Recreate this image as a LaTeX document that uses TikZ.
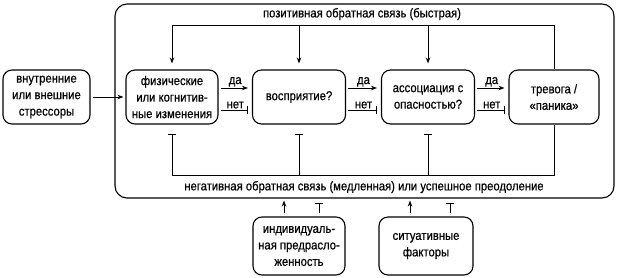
\documentclass[tikz,border=0pt]{standalone}
\usepackage{fontspec}
\setmainfont{Liberation Sans}[FakeStretch=0.88,FakeBold=0.6]
\usepackage{tikz}
\usetikzlibrary{arrows.meta}

\begin{document}
\begin{tikzpicture}[x=1pt,y=-1pt,
    font=\fontsize{12.8}{16.5}\selectfont,
    box/.style={draw, line width=1.1pt, rounded corners=9pt, align=center,
                minimum width=92pt, minimum height=54pt, inner sep=1pt},
    link/.style={line width=0.9pt, -{Stealth[length=6pt,width=4.5pt]}},
    tee/.style={line width=0.9pt, -{Bar[width=8pt]}},
    lbl/.style={inner sep=1pt, above}]
    \useasboundingbox (0,0) rectangle (618,277);

    % outer frame
    \node[draw, line width=1.1pt, rounded corners=12pt, minimum width=499pt,
          minimum height=194pt] (outer) at (364.5,101) {};

    \node[box, minimum width=87pt] (stress) at (46.5,97) {внутренние\\или внешние\\стрессоры};
    \node[box] (change) at (172,97) {физические\\или когнитив-\\ные изменения};
    \node[box, minimum width=93pt] (percept) at (299,97) {восприятие?};
    \node[box, minimum width=93pt] (assoc) at (428,97) {ассоциация с\\опасностью?};
    \node[box, minimum width=90pt] (panic) at (554,97) {тревога /\\«паника»};
    \node[box, minimum height=58pt] (indiv) at (299,246) {индивидуаль-\\ная предрасло-\\женность};
    \node[box, minimum width=94pt, minimum height=58pt] (situ) at (426,246) {ситуативные\\факторы};

    \node (poslbl) at (362,14) {позитивная обратная связь (быстрая)};
    \node (neglbl) at (364,187) {негативная обратная связь (медленная) или успешное преодоление};
    \coordinate (top) at (0,25);
    \coordinate (bot) at (0,175);

    \draw[link, shorten <=2pt, shorten >=2pt] (stress) -- (change);

    % yes / no
    \draw[link, shorten <=2pt, shorten >=4pt] ([yshift=9pt]change.east) -- node[lbl] {да} ([yshift=9pt]percept.west);
    \draw[tee, shorten <=2pt, shorten >=4pt] ([yshift=-13pt]change.east) -- node[lbl] {нет} ([yshift=-13pt]percept.west);
    \draw[link, shorten <=2pt, shorten >=4pt] ([yshift=9pt]percept.east) -- node[lbl] {да} ([yshift=9pt]assoc.west);
    \draw[tee, shorten <=2pt, shorten >=4pt] ([yshift=-13pt]percept.east) -- node[lbl] {нет} ([yshift=-13pt]assoc.west);
    \draw[link, shorten <=2pt, shorten >=4pt] ([yshift=9pt]assoc.east) -- node[lbl] {да} ([yshift=9pt]panic.west);
    \draw[tee, shorten <=2pt, shorten >=4pt] ([yshift=-13pt]assoc.east) -- node[lbl] {нет} ([yshift=-13pt]panic.west);

    % positive feedback
    \draw[link, shorten >=6pt] (panic.north) |- (change.north |- top) -- (change.north);
    \draw[link, shorten >=6pt] (percept.north |- top) -- (percept.north);
    \draw[link, shorten >=6pt] (assoc.north |- top) -- (assoc.north);

    % negative feedback
    \draw[line width=0.9pt] (panic.south) |- (change.south |- bot);
    \draw[tee, shorten >=9pt] (change.south |- bot) -- (change.south);
    \draw[tee, shorten >=9pt] (percept.south |- bot) -- (percept.south);
    \draw[tee, shorten >=9pt] (assoc.south |- bot) -- (assoc.south);

    % influences from below
    \draw[link, shorten <=3pt, shorten >=2pt] ([xshift=-15pt]indiv.north) -- ([xshift=-15pt]indiv.north |- outer.south);
    \draw[tee, shorten <=3pt, shorten >=4pt] ([xshift=20pt]indiv.north) -- ([xshift=20pt]indiv.north |- outer.south);
    \draw[link, shorten <=3pt, shorten >=2pt] ([xshift=-16pt]situ.north) -- ([xshift=-16pt]situ.north |- outer.south);
    \draw[tee, shorten <=3pt, shorten >=4pt] ([xshift=24pt]situ.north) -- ([xshift=24pt]situ.north |- outer.south);
\end{tikzpicture}
\end{document}
